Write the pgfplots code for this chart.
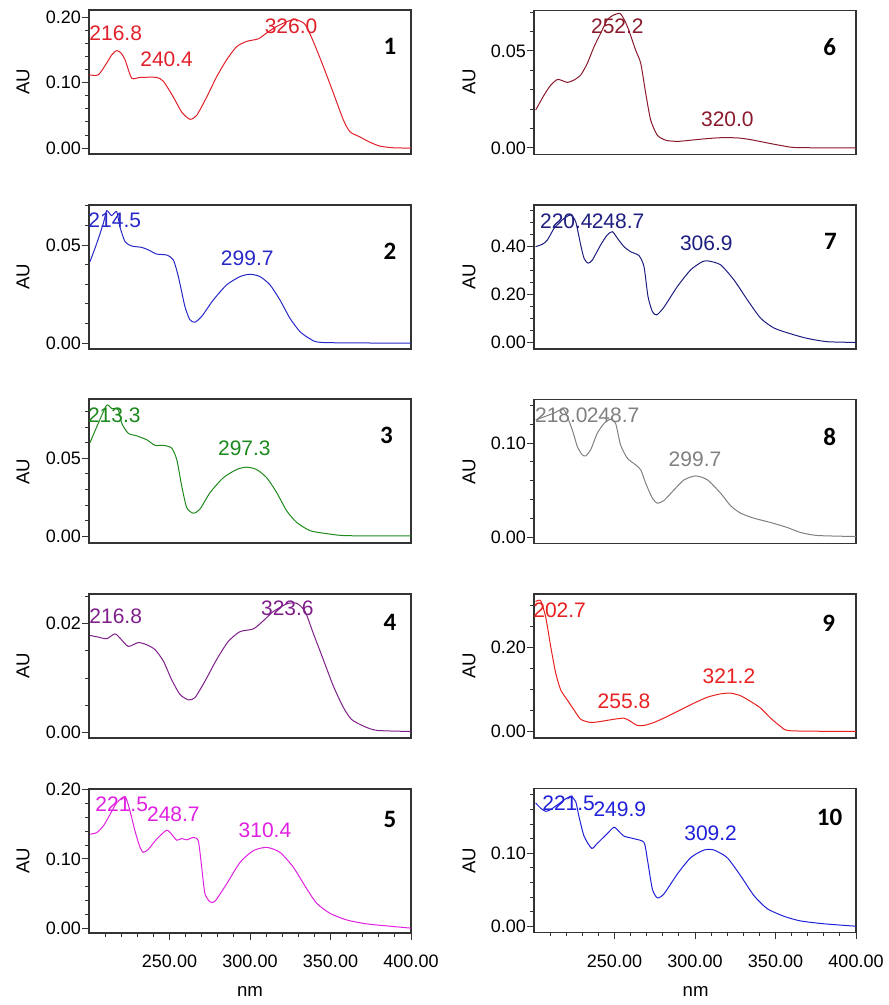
\documentclass[border=0pt]{standalone}
\usepackage{fontspec}
\setmainfont{Liberation Sans}
\newfontfamily\numfont{Carlito}
\usepackage{pgfplots}
\pgfplotsset{compat=1.18}
\definecolor{c1}{HTML}{E0202A}
\definecolor{c2}{HTML}{2828C8}
\definecolor{c3}{HTML}{1E8A1E}
\definecolor{c4}{HTML}{7F1F8A}
\definecolor{c5}{HTML}{E020E0}
\definecolor{c6}{HTML}{8A1A2B}
\definecolor{c7}{HTML}{1E1E80}
\definecolor{c8}{HTML}{808080}
\definecolor{c9}{HTML}{E82020}
\definecolor{c10}{HTML}{2020D8}
\newcommand{\pk}{\fontsize{10.5}{12}\selectfont}
\newcommand{\pn}{\numfont\bfseries\fontsize{12.5}{14}\selectfont}
\pgfplotsset{
  panel/.style={
    scale only axis, width=161pt, height=72pt,
    xmin=200, xmax=400,
    axis line style={draw=black!80, line width=0.6pt},
    tick align=outside, major tick length=3.5pt, minor tick length=2pt,
    tick style={black!80, line width=0.5pt},
    xtick=\empty, ytick pos=left, xtick pos=bottom,
    scaled y ticks=false, scaled x ticks=false,
    yticklabel style={font=\fontsize{9}{10}\selectfont, inner xsep=0.3pt,
      /pgf/number format/.cd, fixed, fixed zerofill, precision=2, assume math mode=true},
    clip mode=individual,
    every axis plot/.append style={line width=0.5pt, no marks, smooth, tension=0.4},
  },
  bottom/.style={
    xtick={250,300,350,400},
    minor xtick={210,220,230,240,260,270,280,290,310,320,330,340,360,370,380,390},
    xticklabel style={font=\fontsize{9}{10}\selectfont, yshift=-4pt,
      /pgf/number format/.cd, fixed, fixed zerofill, precision=2, assume math mode=true, 1000 sep={}},
  },
}
\begin{document}
\begin{tikzpicture}
\path[use as bounding box] (0,0) rectangle (444pt,-502.5pt);
% ---------- Panel 1
\begin{axis}[panel, at={(44.5pt,-5pt)}, anchor=north west,
  ymin=-0.009, ymax=0.211, ytick={0,0.1,0.2},
  minor ytick={0.02,0.04,0.06,0.08,0.12,0.14,0.16,0.18}]
\addplot[c1] coordinates {(200,0.112)(205.8,0.112)(211,0.130)(214,0.142)(217.2,0.149)(220,0.145)(222.4,0.135)(226.5,0.107)(231.7,0.108)(242,0.108)(246.2,0.102)(252.4,0.078)(257.6,0.055)(262.7,0.044)(266.9,0.050)(273.1,0.078)(279.3,0.109)(285.5,0.135)(291.7,0.155)(297.9,0.163)(305.2,0.167)(310.4,0.176)(316.6,0.186)(324.8,0.195)(329,0.196)(334.2,0.189)(339.3,0.163)(345.5,0.125)(351.8,0.084)(358,0.043)(362.1,0.025)(368.3,0.017)(374.5,0.009)(380.7,0.003)(389,0.0005)(400,0)};
\node[c1,font=\pk] at (axis cs:216.6,0.176) {216.8};
\node[c1,font=\pk] at (axis cs:248.2,0.136) {240.4};
\node[c1,font=\pk] at (axis cs:325.5,0.186) {326.0};
\node[font=\pn] at (rel axis cs:0.935,0.745) {1};
\end{axis}
% ---------- Panel 2
\begin{axis}[panel, at={(44.5pt,-102.5pt)}, anchor=north west,
  ymin=-0.003, ymax=0.0704, ytick={0,0.05},
  minor ytick={0.01,0.02,0.03,0.04,0.06,0.07}]
\addplot[c2] coordinates {(200.6,0.0415)(204.8,0.0508)(208.9,0.061)(211,0.0675)(214,0.065)(217.2,0.067)(219.3,0.059)(222.4,0.0517)(226.5,0.0495)(232.7,0.0488)(236.9,0.0475)(242,0.0454)(248.2,0.0449)(252.4,0.0424)(255.5,0.0339)(259.6,0.0186)(262.7,0.0119)(265.8,0.0107)(270,0.0136)(277.2,0.022)(285.5,0.0297)(293.8,0.0339)(300,0.0351)(306.2,0.0339)(312.4,0.0297)(318.6,0.022)(324.8,0.0127)(331,0.0059)(337.3,0.0022)(345.5,0.0003)(400,0)};
\node[c2,font=\pk] at (axis cs:216,0.0627) {214.5};
\node[c2,font=\pk] at (axis cs:298.3,0.0432) {299.7};
\node[font=\pn] at (rel axis cs:0.935,0.676) {2};
\end{axis}
% ---------- Panel 3
\begin{axis}[panel, at={(44.5pt,-199.5pt)}, anchor=north west,
  ymin=-0.0043, ymax=0.088, ytick={0,0.05},
  minor ytick={0.01,0.02,0.03,0.04,0.06,0.07,0.08}]
\addplot[c3] coordinates {(200.6,0.060)(205.8,0.0725)(211,0.084)(214,0.082)(218.2,0.081)(220.3,0.0725)(224.4,0.066)(229.6,0.0644)(235.8,0.0619)(241,0.0583)(246.2,0.0583)(251.3,0.0566)(254.5,0.0492)(257.6,0.0322)(260.7,0.0184)(264.8,0.0148)(268.9,0.0174)(275.2,0.028)(283.4,0.0375)(291.7,0.0428)(297.9,0.0443)(304.1,0.0428)(310.4,0.0375)(316.6,0.028)(322.8,0.0163)(329,0.0089)(337.3,0.0036)(347.6,0.0017)(360,0.0004)(400,0.0002)};
\node[c3,font=\pk] at (axis cs:215.7,0.0778) {213.3};
\node[c3,font=\pk] at (axis cs:296.5,0.0561) {297.3};
\node[font=\pn] at (rel axis cs:0.924,0.745) {3};
\end{axis}
% ---------- Panel 4
\begin{axis}[panel, at={(44.5pt,-297pt)}, anchor=north west,
  ymin=-0.001, ymax=0.0254, ytick={0,0.02},
  minor ytick={0.005,0.01,0.015,0.025}]
\addplot[c4] coordinates {(200.6,0.0178)(205.8,0.0175)(211,0.0172)(216.1,0.0181)(219.3,0.0173)(224.4,0.0158)(230.6,0.0165)(235.8,0.0161)(241,0.0152)(246.2,0.0131)(251.3,0.0097)(256.5,0.007)(261.7,0.006)(265.8,0.0064)(272,0.0094)(279.3,0.0134)(286.5,0.0167)(293.8,0.0185)(302.1,0.019)(308.3,0.0205)(314.5,0.0222)(322.8,0.0236)(329,0.0237)(334.2,0.0222)(339.3,0.0182)(345.5,0.0134)(351.8,0.0085)(358,0.0046)(363.1,0.0024)(370.4,0.0012)(378.7,0.0004)(400,0.0002)};
\node[c4,font=\pk] at (axis cs:216.6,0.0214) {216.8};
\node[c4,font=\pk] at (axis cs:323.2,0.0228) {323.6};
\node[font=\pn] at (rel axis cs:0.935,0.80) {4};
\end{axis}
% ---------- Panel 5
\begin{axis}[panel, bottom, at={(44.5pt,-394.5pt)}, anchor=north west,
  ymin=-0.007, ymax=0.201, ytick={0,0.1,0.2},
  minor ytick={0.02,0.04,0.06,0.08,0.12,0.14,0.16,0.18}]
\addplot[c5] coordinates {(200.6,0.1357)(204.8,0.138)(208.9,0.1476)(213,0.164)(217.2,0.181)(222.4,0.19)(225.5,0.169)(228.6,0.140)(231.7,0.1167)(233.7,0.1095)(236.9,0.114)(242,0.1286)(248.2,0.1414)(251.3,0.1357)(254.5,0.127)(257.6,0.1295)(260.7,0.1276)(264.8,0.131)(267.9,0.126)(270,0.088)(272,0.05)(275.2,0.038)(278.3,0.039)(285.5,0.064)(293.8,0.095)(302.1,0.112)(310.4,0.1167)(318.6,0.1095)(326.9,0.088)(335.2,0.057)(341.4,0.036)(349.7,0.0214)(360,0.0119)(372.4,0.0062)(389,0.0024)(400,0)};
\node[c5,font=\pk] at (axis cs:220.3,0.1786) {221.5};
\node[c5,font=\pk] at (axis cs:252.4,0.164) {248.7};
\node[c5,font=\pk] at (axis cs:309.3,0.1414) {310.4};
\node[font=\pn] at (rel axis cs:0.935,0.787) {5};
\end{axis}
% ---------- Panel 6
\begin{axis}[panel, at={(267pt,-5.3pt)}, anchor=north west,
  ymin=-0.0034, ymax=0.0708, ytick={0,0.05},
  minor ytick={0.01,0.02,0.03,0.04,0.06,0.07}]
\addplot[c6] coordinates {(201,0.0195)(206.2,0.0272)(210.4,0.0324)(214.5,0.0353)(217.6,0.0347)(220.7,0.0338)(224.8,0.035)(229,0.0376)(233.1,0.0436)(237.3,0.0522)(241.4,0.0591)(245.5,0.066)(249.7,0.0686)(253.8,0.0691)(258,0.0626)(263.1,0.0505)(266.3,0.0436)(269.4,0.0281)(272.5,0.0143)(276.6,0.0066)(281.8,0.004)(289,0.0034)(297.3,0.004)(305.6,0.0047)(315.9,0.0053)(326.3,0.0052)(334.6,0.0043)(344.9,0.0026)(355.3,0.001)(363.6,0.0002)(400,0)};
\node[c6,font=\pk] at (axis cs:251.8,0.0626) {252.2};
\node[c6,font=\pk] at (axis cs:320.1,0.0147) {320.0};
\node[font=\pn] at (rel axis cs:0.918,0.747) {6};
\end{axis}
% ---------- Panel 7
\begin{axis}[panel, at={(267pt,-102.5pt)}, anchor=north west,
  ymin=-0.0275, ymax=0.574, ytick={0,0.2,0.4},
  minor ytick={0.05,0.1,0.15,0.25,0.3,0.35,0.45,0.5,0.55}]
\addplot[c7] coordinates {(201,0.40)(205.2,0.41)(208.3,0.428)(212.4,0.476)(215.5,0.497)(218.6,0.518)(222.8,0.532)(225.9,0.504)(229,0.407)(231.1,0.351)(233.5,0.331)(236.2,0.344)(241.4,0.407)(245.5,0.449)(248.7,0.4625)(251.8,0.435)(255.9,0.40)(260,0.379)(265.2,0.3625)(268.3,0.317)(270.8,0.192)(273.5,0.129)(276.2,0.115)(280.7,0.147)(289,0.233)(297.3,0.303)(304.6,0.3375)(308.5,0.340)(315.9,0.324)(324.2,0.261)(332.5,0.178)(340.8,0.101)(349.1,0.06)(359.4,0.036)(369.8,0.0167)(382.2,0.003)(400,0)};
\node[c7,font=\pk] at (axis cs:220.1,0.504) {220.4};
\node[c7,font=\pk] at (axis cs:252.2,0.504) {248.7};
\node[c7,font=\pk] at (axis cs:307,0.414) {306.9};
\node[font=\pn] at (rel axis cs:0.921,0.747) {7};
\end{axis}
% ---------- Panel 8
\begin{axis}[panel, at={(267pt,-199.6pt)}, anchor=north west,
  ymin=-0.0064, ymax=0.1468, ytick={0,0.1},
  minor ytick={0.02,0.04,0.06,0.08,0.12,0.14}]
\addplot[c8] coordinates {(201,0.1248)(206.2,0.128)(212.4,0.132)(218.6,0.1355)(223.8,0.114)(226.9,0.0965)(230,0.0876)(232.1,0.0865)(235.2,0.093)(239.3,0.1106)(243.5,0.121)(247.6,0.1255)(250.7,0.121)(253.8,0.098)(258,0.084)(263.1,0.077)(266.3,0.0716)(269.4,0.0574)(273.5,0.0415)(276.6,0.0362)(280.7,0.039)(287,0.0504)(293.2,0.061)(300.4,0.0652)(307.7,0.061)(315.9,0.0468)(322.2,0.0333)(328.4,0.0255)(336.6,0.0202)(347,0.0156)(357.3,0.0103)(365.6,0.005)(376,0.0018)(400,0.0007)};
\node[c8,font=\pk] at (axis cs:217,0.130) {218.0};
\node[c8,font=\pk] at (axis cs:249.1,0.130) {248.7};
\node[c8,font=\pk] at (axis cs:300,0.0833) {299.7};
\node[font=\pn] at (rel axis cs:0.918,0.74) {8};
\end{axis}
% ---------- Panel 9
\begin{axis}[panel, at={(267pt,-297pt)}, anchor=north west,
  ymin=-0.0157, ymax=0.328, ytick={0,0.2},
  minor ytick={0.05,0.1,0.15,0.25,0.3}]
\addplot[c9] coordinates {(201,0.31)(204.1,0.312)(207.2,0.274)(210.4,0.202)(213.5,0.139)(216.6,0.099)(220.7,0.075)(224.8,0.0516)(229,0.029)(235.2,0.0214)(241.4,0.0238)(247.6,0.0278)(255.9,0.0317)(260,0.0238)(264.2,0.0143)(268.3,0.0143)(274.5,0.0214)(282.8,0.0357)(291.1,0.0516)(299.4,0.0675)(307.7,0.0817)(315.9,0.0897)(322.2,0.0913)(328.4,0.085)(334.6,0.0714)(340.8,0.0556)(347,0.0317)(353.2,0.0119)(359.4,0.0016)(400,0)};
\node[c9,font=\pk] at (axis cs:215.9,0.2897) {202.7};
\node[c9,font=\pk] at (axis cs:255.9,0.0714) {255.8};
\node[c9,font=\pk] at (axis cs:321.1,0.131) {321.2};
\node[font=\pn] at (rel axis cs:0.915,0.80) {9};
\end{axis}
% ---------- Panel 10
\begin{axis}[panel, bottom, at={(267pt,-394.2pt)}, anchor=north west,
  ymin=-0.0085, ymax=0.189, ytick={0,0.1},
  minor ytick={0.02,0.04,0.06,0.08,0.12,0.14,0.16,0.18}]
\addplot[c10] coordinates {(201,0.169)(204.1,0.162)(207.2,0.1575)(210.4,0.16)(214.5,0.1665)(218.6,0.173)(222.8,0.178)(225.9,0.171)(227.9,0.1507)(231.1,0.1235)(235.8,0.1068)(239.3,0.1136)(245.5,0.127)(249.7,0.1357)(252.8,0.130)(255.9,0.1235)(262.1,0.120)(268.3,0.115)(270.4,0.0919)(273.5,0.051)(276.6,0.039)(280.7,0.0443)(289,0.0715)(297.3,0.094)(305.6,0.1045)(311.8,0.1045)(320,0.094)(328.4,0.069)(336.6,0.042)(344.9,0.024)(355.3,0.0136)(365.6,0.0072)(380.7,0.0032)(400,0)};
\node[c10,font=\pk] at (axis cs:221.5,0.169) {221.5};
\node[c10,font=\pk] at (axis cs:253.3,0.1606) {249.9};
\node[c10,font=\pk] at (axis cs:309.7,0.128) {309.2};
\node[font=\pn] at (rel axis cs:0.918,0.796) {10};
\end{axis}
% ---------- axis titles
\foreach \yy in {41,138.5,235.75,333,430.5}{
  \node[rotate=90,font=\fontsize{9.3}{11}\selectfont] at (11.5pt,-\yy pt) {AU};
  \node[rotate=90,font=\fontsize{9.3}{11}\selectfont] at (234.5pt,-\yy pt) {AU};
}
\node[font=\fontsize{9.3}{11}\selectfont] at (125pt,-495.8pt) {nm};
\node[font=\fontsize{9.3}{11}\selectfont] at (347.8pt,-495.8pt) {nm};
\end{tikzpicture}
\end{document}
